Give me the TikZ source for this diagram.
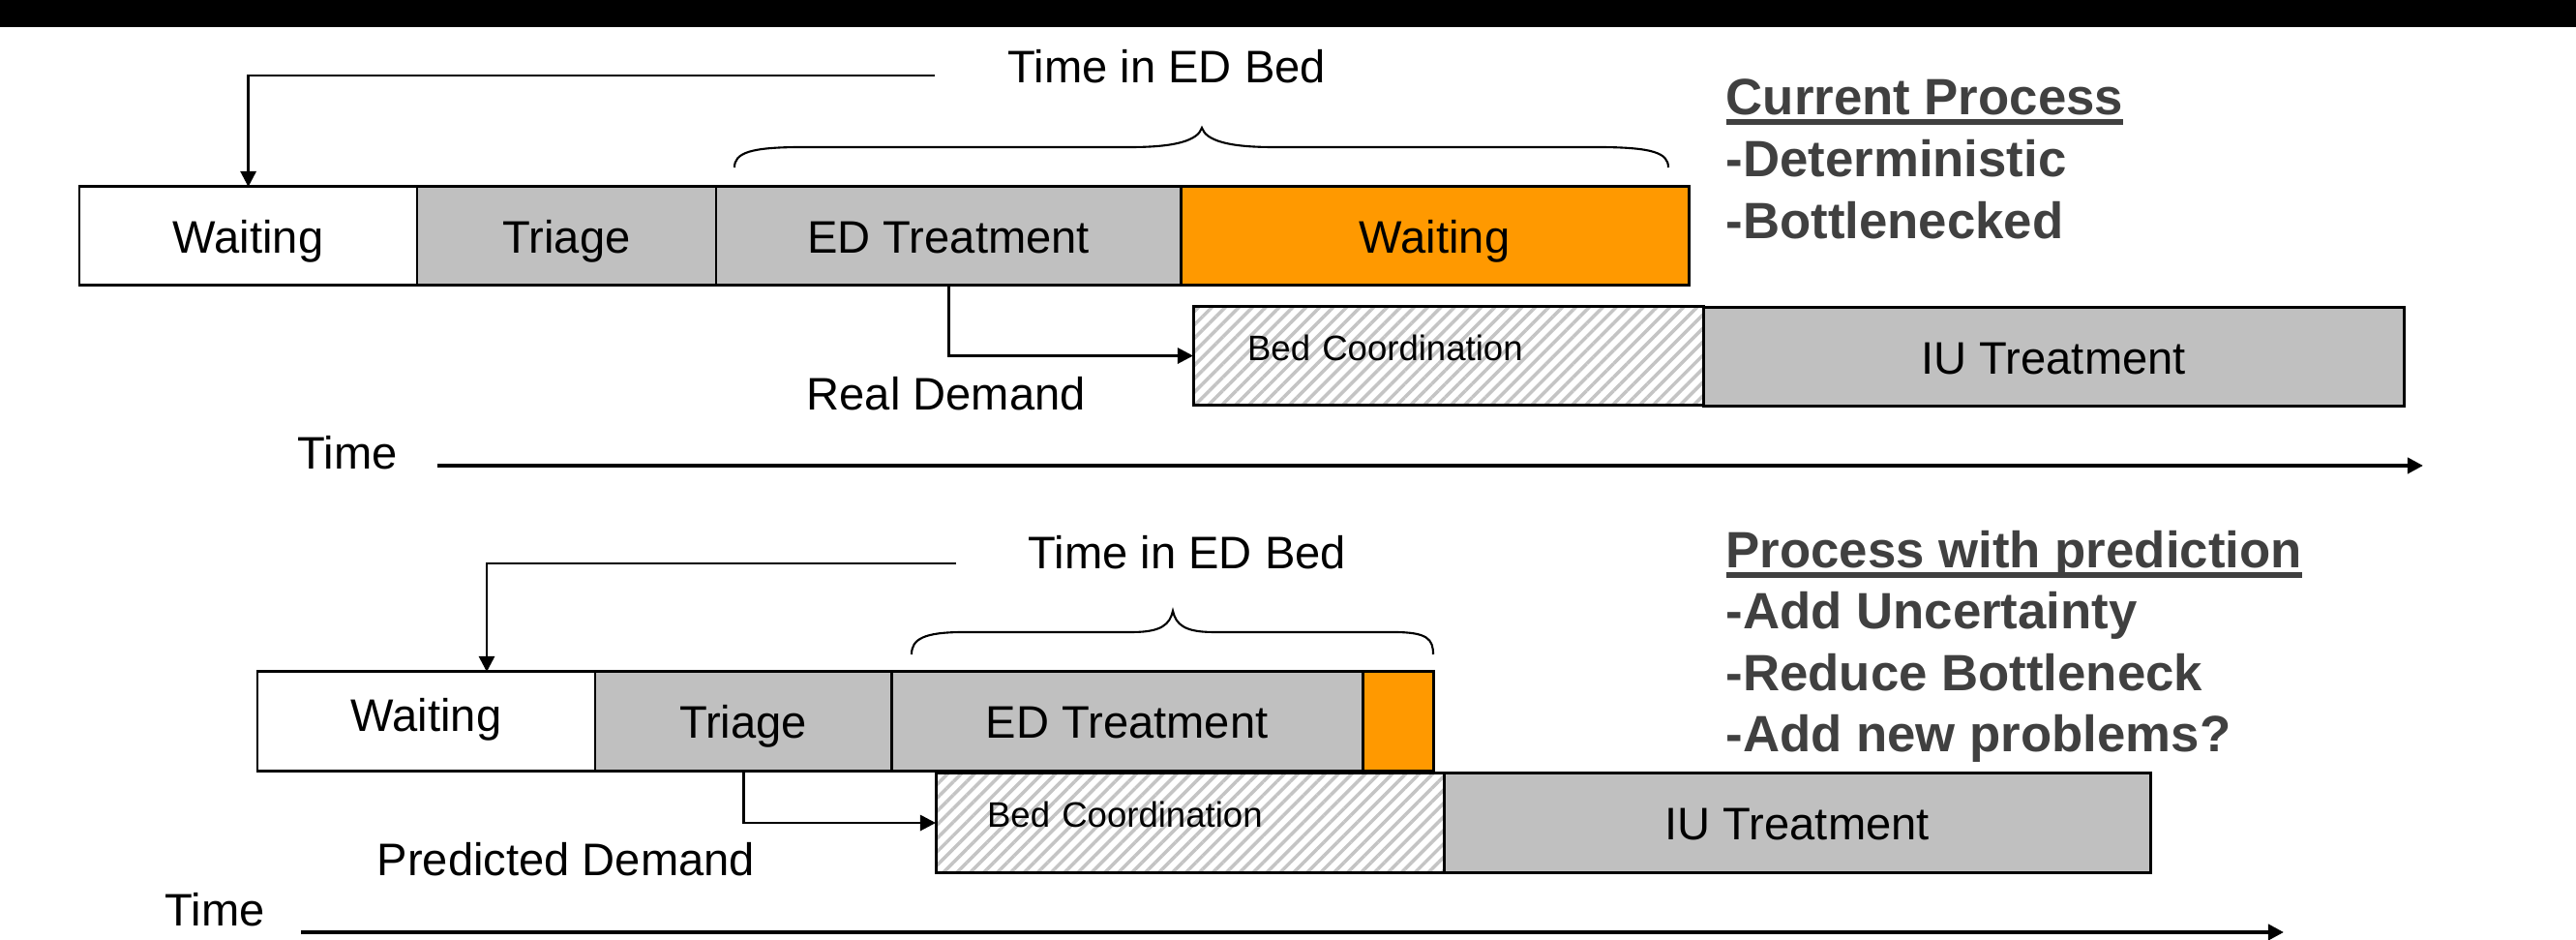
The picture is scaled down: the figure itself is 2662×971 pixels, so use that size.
\documentclass[tikz,border=0pt]{standalone}
\usepackage{fontspec}
\setmainfont{Liberation Sans}
\usetikzlibrary{arrows.meta,patterns.meta,calc}
\definecolor{boxgray}{HTML}{C0C0C0}
\definecolor{edorange}{HTML}{FF9900}
\definecolor{darktext}{HTML}{404040}
\definecolor{hatchgray}{HTML}{C4C4C4}
\newcommand\thickul[1]{\setbox0\hbox{#1}\rlap{\rule[-2.9pt]{\wd0}{1.7pt}}#1}
\tikzset{
  lbl/.style={font=\fontsize{13.4pt}{16pt}\selectfont, inner sep=0pt, anchor=base west},
  stage/.style={draw=black, line width=0.85pt, inner sep=0pt, outer sep=0pt,
    font=\fontsize{13.4pt}{16pt}\selectfont, anchor=north west,
    text height=1.0em, text depth=0pt},
  graybox/.style={stage, fill=boxgray},
  orangebox/.style={stage, fill=edorange},
  bedbox/.style={stage, pattern={Lines[angle=45,distance=2.8pt,line width=1pt]},
    pattern color=hatchgray, font=\fontsize{10.4pt}{12pt}\selectfont,
    align=left, text height=2.6pt, text depth=0pt},
  note/.style={font=\bfseries\fontsize{15pt}{18pt}\selectfont, text=darktext,
    anchor=base west, inner sep=0pt},
  conn/.style={line width=0.8pt, -{Triangle[length=4.6pt,width=4.6pt]}},
  timeaxis/.style={line width=1.1pt, -{Triangle[length=4.6pt,width=4.6pt]}},
  brace/.style={line width=0.6pt}
}
\begin{document}
\begin{tikzpicture}[x=0.01cm,y=-0.01cm]
\useasboundingbox (0,0) rectangle (2662,971);
\fill[black] (0,0) rectangle (2662,28);

% ---------- current process ----------
\node[stage, minimum width=3.49cm, minimum height=1.01cm] (w1) at (82,193) {Waiting};
\node[graybox, minimum width=3.09cm, minimum height=1.01cm] (t1) at (431,193) {Triage};
\node[graybox, minimum width=4.80cm, minimum height=1.01cm] (e1) at (740,193) {ED Treatment};
\node[orangebox, minimum width=5.25cm, minimum height=1.01cm] (o1) at (1220,193) {Waiting};
\node[bedbox, minimum width=5.27cm, minimum height=1.01cm, inner xsep=0.56cm,
      text width=4.15cm] (bc1) at (1233,317) {Bed Coordination};
\node[graybox, minimum width=7.24cm, minimum height=1.01cm] (iu1) at (1760,318) {IU Treatment};

\node[lbl] (tb1) at (1041,86) {Time in ED Bed};
\node[lbl] (rd) at (833,424) {Real Demand};
\node[lbl] (time1) at (307,485) {Time};

\coordinate (tl1) at (966,78);
\draw[conn] (tl1) -| (w1.north);
\draw[conn] (e1.south) |- (bc1.west);

\draw[brace] (759,173) .. controls (759,158) and (775,152) .. (829,152) -- (1169,152)
  .. controls (1215,152) and (1238,145) .. (1242,132)
  .. controls (1246,145) and (1269,152) .. (1315,152) -- (1650,152)
  .. controls (1708,152) and (1724,158) .. (1724,173);

\coordinate (ax1s) at (452,481);
\coordinate (ax1e) at (2504,481);
\draw[timeaxis] (ax1s) -- (ax1e);

\node[note] (cp) at (1783,119) {\thickul{Current Process}};
\node[note] (cp1) at (1783,183) {-Deterministic};
\node[note] (cp2) at (1783,247) {-Bottlenecked};

% ---------- process with prediction ----------
\node[stage, minimum width=3.49cm, minimum height=1.02cm, text height=0.6em] (w2) at (266,694) {Waiting};
\node[graybox, minimum width=3.06cm, minimum height=1.02cm] (t2) at (615,694) {Triage};
\node[graybox, minimum width=4.87cm, minimum height=1.02cm] (e2) at (921,694) {ED Treatment};
\node[orangebox, minimum width=0.73cm, minimum height=1.02cm] (o2) at (1408,694) {};
\node[bedbox, minimum width=5.25cm, minimum height=1.02cm, inner xsep=0.53cm,
      text width=4.19cm] (bc2) at (967,799) {Bed Coordination};
\node[graybox, minimum width=7.30cm, minimum height=1.02cm] (iu2) at (1492,799) {IU Treatment};

\node[lbl] (tb2) at (1062,588) {Time in ED Bed};
\node[lbl] (pd) at (389,905) {Predicted Demand};
\node[lbl] (time2) at (170,957) {Time};

\coordinate (tl2) at (988,582);
\draw[conn] (tl2) -| ($(w2.north west)+(237,0)$);
\draw[conn] (t2.south) |- (bc2.west);

\draw[brace] (942,676) .. controls (942,660) and (955,653) .. (996,653) -- (1170,653)
  .. controls (1200,653) and (1209,645) .. (1212,631)
  .. controls (1215,645) and (1224,653) .. (1254,653) -- (1440,653)
  .. controls (1475,653) and (1481,660) .. (1481,676);

\coordinate (ax2s) at (311,963);
\coordinate (ax2e) at (2360,963);
\draw[timeaxis] (ax2s) -- (ax2e);

\node[note] (pp) at (1783,587) {\thickul{Process with prediction}};
\node[note] (pp1) at (1783,650) {-Add Uncertainty};
\node[note] (pp2) at (1783,714) {-Reduce Bottleneck};
\node[note] (pp3) at (1783,777) {-Add new problems?};
\end{tikzpicture}
\end{document}
